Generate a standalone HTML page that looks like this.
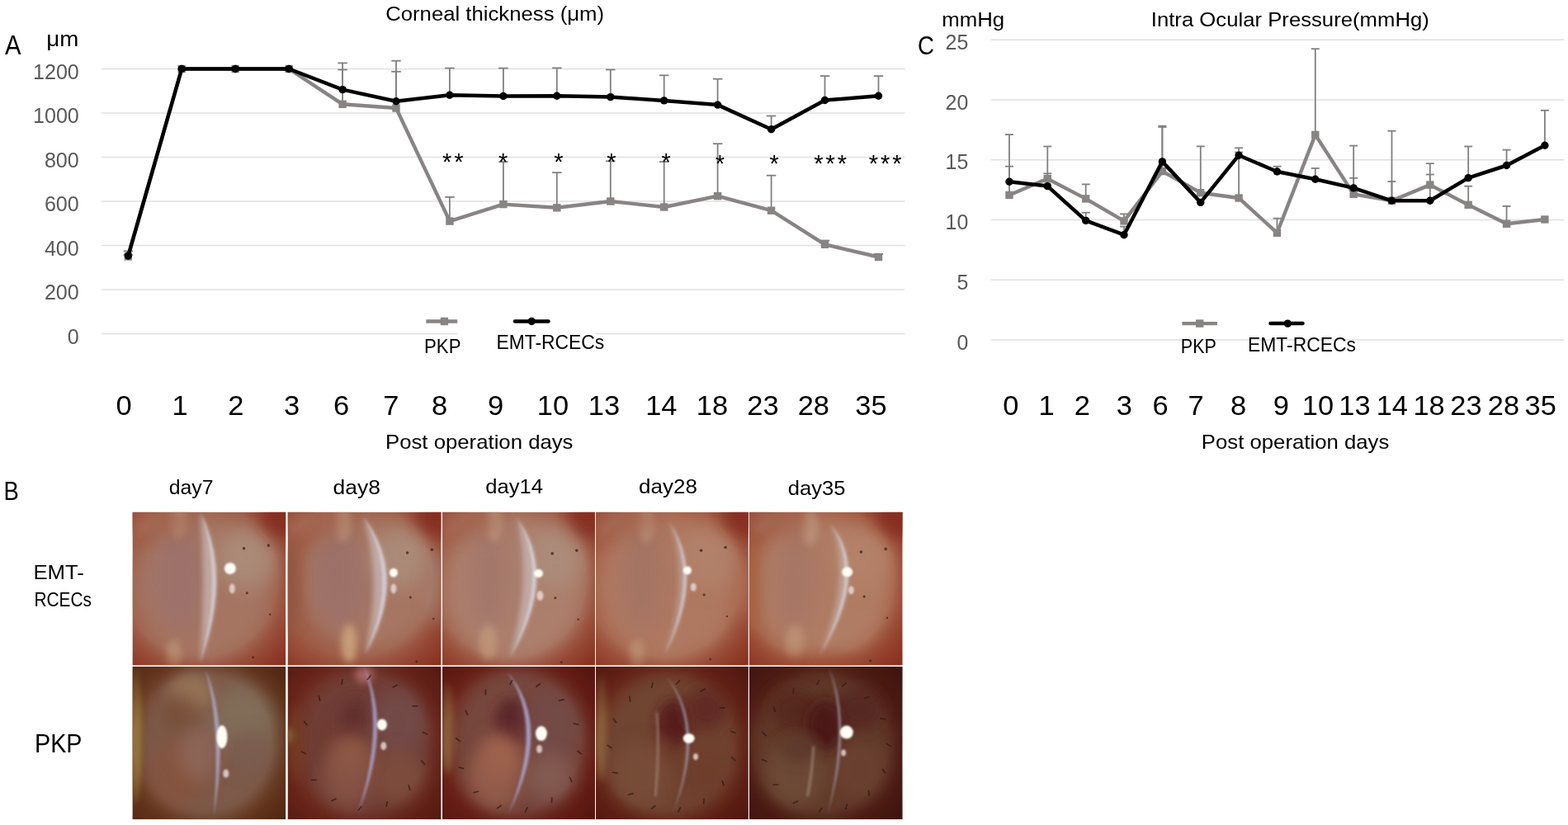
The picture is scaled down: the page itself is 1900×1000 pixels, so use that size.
<!DOCTYPE html>
<html><head><meta charset="utf-8"><title>Figure</title>
<style>
html,body{margin:0;padding:0;background:#fff;}
body{width:1900px;height:1000px;overflow:hidden;}
svg{display:block;}
text{font-family:"Liberation Sans", sans-serif;}
</style></head>
<body>
<svg width="1900" height="1000" viewBox="0 0 1900 1000">
<defs>
<filter id="f1" x="-60%" y="-60%" width="220%" height="220%"><feGaussianBlur stdDeviation="1"/></filter>
<filter id="f2" x="-60%" y="-60%" width="220%" height="220%"><feGaussianBlur stdDeviation="2"/></filter>
<filter id="f3" x="-60%" y="-60%" width="220%" height="220%"><feGaussianBlur stdDeviation="3"/></filter>
<filter id="f4" x="-60%" y="-60%" width="220%" height="220%"><feGaussianBlur stdDeviation="4"/></filter>
<filter id="f5" x="-60%" y="-60%" width="220%" height="220%"><feGaussianBlur stdDeviation="5"/></filter>
<filter id="f6" x="-60%" y="-60%" width="220%" height="220%"><feGaussianBlur stdDeviation="6"/></filter>
<filter id="f7" x="-60%" y="-60%" width="220%" height="220%"><feGaussianBlur stdDeviation="7"/></filter>
<filter id="f8" x="-60%" y="-60%" width="220%" height="220%"><feGaussianBlur stdDeviation="8"/></filter>
<filter id="f10" x="-60%" y="-60%" width="220%" height="220%"><feGaussianBlur stdDeviation="10"/></filter>
<filter id="f12" x="-60%" y="-60%" width="220%" height="220%"><feGaussianBlur stdDeviation="12"/></filter>
<filter id="f15" x="-60%" y="-60%" width="220%" height="220%"><feGaussianBlur stdDeviation="15"/></filter>
<filter id="f18" x="-60%" y="-60%" width="220%" height="220%"><feGaussianBlur stdDeviation="18"/></filter>
<filter id="f1_5" x="-60%" y="-60%" width="220%" height="220%"><feGaussianBlur stdDeviation="1.5"/></filter>
<clipPath id="ph0"><rect x="160.5" y="620.8" width="185.8" height="185.7"/></clipPath>
<radialGradient id="vg0" cx="0.44" cy="0.44" r="0.76"><stop offset="0.66" stop-color="#8a3222" stop-opacity="0"/><stop offset="1" stop-color="#8a3222" stop-opacity="1"/></radialGradient>
<clipPath id="ph1"><rect x="160.5" y="808" width="185.8" height="185.2"/></clipPath>
<radialGradient id="vg1" cx="0.46" cy="0.5" r="0.72"><stop offset="0.62" stop-color="#502814" stop-opacity="0"/><stop offset="1" stop-color="#502814" stop-opacity="1"/></radialGradient>
<clipPath id="ph2"><rect x="348.6" y="620.8" width="185.9" height="185.7"/></clipPath>
<radialGradient id="vg2" cx="0.44" cy="0.44" r="0.76"><stop offset="0.66" stop-color="#8a3222" stop-opacity="0"/><stop offset="1" stop-color="#8a3222" stop-opacity="1"/></radialGradient>
<clipPath id="ph3"><rect x="348.6" y="808" width="185.9" height="185.2"/></clipPath>
<radialGradient id="vg3" cx="0.46" cy="0.5" r="0.72"><stop offset="0.62" stop-color="#551912" stop-opacity="0"/><stop offset="1" stop-color="#551912" stop-opacity="1"/></radialGradient>
<clipPath id="ph4"><rect x="536" y="620.8" width="185.0" height="185.7"/></clipPath>
<radialGradient id="vg4" cx="0.44" cy="0.44" r="0.76"><stop offset="0.66" stop-color="#8a3222" stop-opacity="0"/><stop offset="1" stop-color="#8a3222" stop-opacity="1"/></radialGradient>
<clipPath id="ph5"><rect x="536" y="808" width="185.0" height="185.2"/></clipPath>
<radialGradient id="vg5" cx="0.46" cy="0.5" r="0.72"><stop offset="0.62" stop-color="#55140f" stop-opacity="0"/><stop offset="1" stop-color="#55140f" stop-opacity="1"/></radialGradient>
<clipPath id="ph6"><rect x="722" y="620.8" width="184.8" height="185.7"/></clipPath>
<radialGradient id="vg6" cx="0.44" cy="0.44" r="0.76"><stop offset="0.66" stop-color="#8a3222" stop-opacity="0"/><stop offset="1" stop-color="#8a3222" stop-opacity="1"/></radialGradient>
<clipPath id="ph7"><rect x="722" y="808" width="184.8" height="185.2"/></clipPath>
<radialGradient id="vg7" cx="0.46" cy="0.5" r="0.72"><stop offset="0.62" stop-color="#501610" stop-opacity="0"/><stop offset="1" stop-color="#501610" stop-opacity="1"/></radialGradient>
<clipPath id="ph8"><rect x="907.8" y="620.8" width="185.8" height="185.7"/></clipPath>
<radialGradient id="vg8" cx="0.44" cy="0.44" r="0.76"><stop offset="0.66" stop-color="#8a3222" stop-opacity="0"/><stop offset="1" stop-color="#8a3222" stop-opacity="1"/></radialGradient>
<clipPath id="ph9"><rect x="907.8" y="808" width="185.8" height="185.2"/></clipPath>
<radialGradient id="vg9" cx="0.46" cy="0.5" r="0.72"><stop offset="0.62" stop-color="#3e140e" stop-opacity="0"/><stop offset="1" stop-color="#3e140e" stop-opacity="1"/></radialGradient>
</defs>
<rect width="1900" height="1000" fill="#fff"/>
<g clip-path="url(#ph0)">
<rect x="160.5" y="620.8" width="185.8" height="185.7" fill="#9e5a44"/>
<ellipse cx="246.0" cy="713.6" rx="87.3" ry="92.9" fill="#a57562" opacity="1" filter="url(#f12)"/>
<ellipse cx="216.2" cy="704.4" rx="35.3" ry="55.7" fill="#a0766e" opacity="0.85" filter="url(#f10)"/>
<ellipse cx="298.0" cy="676.5" rx="37.2" ry="37.1" fill="#ac8c7a" opacity="0.9" filter="url(#f12)"/>
<ellipse cx="216.2" cy="695.1" rx="18.6" ry="65.0" fill="#966c68" opacity="0.35" filter="url(#f12)"/>
<ellipse cx="216.2" cy="630.1" rx="9.3" ry="22.3" fill="#bc9680" opacity="0.7" filter="url(#f4)"/>
<ellipse cx="210.7" cy="793.5" rx="9.3" ry="18.6" fill="#be9678" opacity="0.7" filter="url(#f4)"/>
<ellipse cx="197.7" cy="631.9" rx="33.4" ry="18.6" fill="#a56952" opacity="0.7" filter="url(#f10)"/>
<ellipse cx="346.3" cy="620.8" rx="29.7" ry="29.7" fill="#7e281e" opacity="0.9" filter="url(#f10)"/>
<ellipse cx="164.2" cy="624.5" rx="22.3" ry="22.3" fill="#a66c58" opacity="0.8" filter="url(#f8)"/>
<rect x="160.5" y="620.8" width="185.8" height="185.7" fill="url(#vg0)"/>
<path d="M242.3,620.8 Q281.6,696.9 242.3,802.8 Q249.6,696.9 242.3,620.8 Z" fill="#c6b4b0" opacity="0.8" filter="url(#f3)"/>
<path d="M242.3,620.8 Q281.6,696.9 242.3,802.8 Q271.6,696.9 242.3,620.8 Z" fill="#d6ccd4" opacity="0.9" filter="url(#f1_5)"/>
<circle cx="295.6" cy="664.8" r="1.8" fill="#3a2018" opacity="0.75"/>
<circle cx="325.3" cy="661.1" r="1.8" fill="#3a2018" opacity="0.75"/>
<circle cx="299.3" cy="718.7" r="1.5" fill="#3a2018" opacity="0.75"/>
<circle cx="327.2" cy="744.7" r="1.2" fill="#3a2018" opacity="0.75"/>
<circle cx="306.7" cy="796.7" r="1.4" fill="#3a2018" opacity="0.75"/>
<ellipse cx="278.9" cy="689.0" rx="7" ry="7" fill="#fffdf4" filter="url(#f1)"/>
<ellipse cx="281.3" cy="713.6" rx="3.5" ry="6" fill="#e8d8d4" opacity="0.85" filter="url(#f1)"/>
</g>
<g clip-path="url(#ph1)">
<rect x="160.5" y="808" width="185.8" height="185.2" fill="#6e3a20"/>
<ellipse cx="253.4" cy="900.6" rx="87.3" ry="96.3" fill="#7d5a4a" opacity="1" filter="url(#f10)"/>
<ellipse cx="294.3" cy="871.0" rx="40.9" ry="40.7" fill="#82705c" opacity="0.9" filter="url(#f12)"/>
<ellipse cx="301.7" cy="911.7" rx="29.7" ry="25.9" fill="#7a5d50" opacity="0.9" filter="url(#f10)"/>
<ellipse cx="216.2" cy="937.6" rx="33.4" ry="40.7" fill="#87523e" opacity="0.8" filter="url(#f12)"/>
<ellipse cx="164.2" cy="891.3" rx="7.4" ry="83.3" fill="#96783c" opacity="0.9" filter="url(#f3)"/>
<ellipse cx="231.1" cy="839.5" rx="26.0" ry="22.2" fill="#987658" opacity="0.9" filter="url(#f8)"/>
<ellipse cx="240.4" cy="911.7" rx="24.2" ry="33.3" fill="#8e665a" opacity="0.9" filter="url(#f10)"/>
<ellipse cx="216.2" cy="863.6" rx="22.3" ry="22.2" fill="#784e38" opacity="0.8" filter="url(#f10)"/>
<rect x="160.5" y="808" width="185.8" height="185.2" fill="url(#vg1)"/>
<path d="M248.9,811.7 Q278.1,878.4 259.0,989.5 Q268.1,878.4 248.9,811.7 Z" fill="#afa5c3" opacity="0.9" filter="url(#f1_5)"/>
<ellipse cx="269.0" cy="893.2" rx="6.5" ry="14" fill="#fffdf4" filter="url(#f1)"/>
<ellipse cx="273.8" cy="937.6" rx="3.5" ry="5" fill="#e8d8d4" opacity="0.85" filter="url(#f1)"/>
</g>
<g clip-path="url(#ph2)">
<rect x="348.6" y="620.8" width="185.9" height="185.7" fill="#9e5a44"/>
<ellipse cx="447.1" cy="706.2" rx="87.4" ry="83.6" fill="#a67662" opacity="1" filter="url(#f12)"/>
<ellipse cx="415.5" cy="704.4" rx="39.0" ry="55.7" fill="#a0746c" opacity="0.85" filter="url(#f10)"/>
<ellipse cx="486.2" cy="676.5" rx="37.2" ry="37.1" fill="#ac8c7a" opacity="0.9" filter="url(#f12)"/>
<ellipse cx="404.4" cy="695.1" rx="18.6" ry="65.0" fill="#966c68" opacity="0.35" filter="url(#f12)"/>
<ellipse cx="415.5" cy="633.8" rx="9.3" ry="22.3" fill="#be967d" opacity="0.7" filter="url(#f4)"/>
<ellipse cx="423.0" cy="780.5" rx="9.3" ry="24.1" fill="#cda580" opacity="0.85" filter="url(#f4)"/>
<ellipse cx="385.8" cy="631.9" rx="33.5" ry="18.6" fill="#a56952" opacity="0.7" filter="url(#f10)"/>
<ellipse cx="534.5" cy="620.8" rx="29.7" ry="29.7" fill="#7e281e" opacity="0.9" filter="url(#f10)"/>
<ellipse cx="352.3" cy="624.5" rx="22.3" ry="22.3" fill="#a66c58" opacity="0.8" filter="url(#f8)"/>
<ellipse cx="530.8" cy="713.6" rx="18.6" ry="46.4" fill="#a67c6a" opacity="0.9" filter="url(#f8)"/>
<ellipse cx="348.6" cy="713.6" rx="14.9" ry="55.7" fill="#925440" opacity="0.9" filter="url(#f8)"/>
<rect x="348.6" y="620.8" width="185.9" height="185.7" fill="url(#vg2)"/>
<path d="M439.7,626.4 Q496.4,698.8 441.6,793.5 Q464.4,698.8 439.7,626.4 Z" fill="#c6b4b0" opacity="0.8" filter="url(#f3)"/>
<path d="M439.7,626.4 Q496.4,698.8 441.6,793.5 Q485.4,698.8 439.7,626.4 Z" fill="#d6ccd4" opacity="0.9" filter="url(#f1_5)"/>
<circle cx="493.6" cy="670.0" r="1.8" fill="#3a2018" opacity="0.75"/>
<circle cx="523.3" cy="666.3" r="1.8" fill="#3a2018" opacity="0.75"/>
<circle cx="497.3" cy="723.9" r="1.5" fill="#3a2018" opacity="0.75"/>
<circle cx="525.2" cy="749.9" r="1.2" fill="#3a2018" opacity="0.75"/>
<circle cx="504.8" cy="801.9" r="1.4" fill="#3a2018" opacity="0.75"/>
<ellipse cx="476.9" cy="694.2" rx="5" ry="5.5" fill="#fffdf4" filter="url(#f1)"/>
<ellipse cx="476.9" cy="713.6" rx="3.5" ry="6" fill="#e8d8d4" opacity="0.85" filter="url(#f1)"/>
</g>
<g clip-path="url(#ph3)">
<rect x="348.6" y="808" width="185.9" height="185.2" fill="#70281c"/>
<ellipse cx="441.6" cy="900.6" rx="83.7" ry="92.6" fill="#703e34" opacity="1" filter="url(#f10)"/>
<ellipse cx="431.0" cy="876.5" rx="18.6" ry="29.6" fill="#622d2d" opacity="0.9" filter="url(#f8)"/>
<ellipse cx="482.4" cy="878.4" rx="33.5" ry="44.4" fill="#734b48" opacity="0.9" filter="url(#f10)"/>
<ellipse cx="423.0" cy="941.3" rx="33.5" ry="37.0" fill="#875546" opacity="0.9" filter="url(#f10)"/>
<ellipse cx="352.3" cy="891.3" rx="5.6" ry="9.3" fill="#967d50" opacity="0.8" filter="url(#f3)"/>
<ellipse cx="359.8" cy="900.6" rx="9.3" ry="46.3" fill="#733c23" opacity="0.8" filter="url(#f6)"/>
<ellipse cx="482.4" cy="941.3" rx="33.5" ry="33.3" fill="#7e4e3c" opacity="0.9" filter="url(#f10)"/>
<ellipse cx="426.7" cy="913.6" rx="24.2" ry="25.9" fill="#8e5844" opacity="0.9" filter="url(#f10)"/>
<ellipse cx="441.6" cy="817.3" rx="11.2" ry="11.1" fill="#b46e6e" opacity="0.8" filter="url(#f4)"/>
<rect x="348.6" y="808" width="185.9" height="185.2" fill="url(#vg3)"/>
<path d="M441.0,808.0 Q477.0,881.2 433.0,987.6 Q467.0,881.2 441.0,808.0 Z" fill="#aaa5d2" opacity="0.85" filter="url(#f1_5)"/>
<line x1="510.4" y1="921.4" x2="514.8" y2="926.9" stroke="#2e1812" stroke-width="1.6" opacity="0.75"/>
<line x1="495.2" y1="951.4" x2="496.8" y2="958.2" stroke="#2e1812" stroke-width="1.6" opacity="0.75"/>
<line x1="469.4" y1="971.3" x2="467.9" y2="978.2" stroke="#2e1812" stroke-width="1.6" opacity="0.75"/>
<line x1="438.1" y1="977.3" x2="433.7" y2="982.7" stroke="#2e1812" stroke-width="1.6" opacity="0.75"/>
<line x1="407.5" y1="968.0" x2="401.2" y2="971.0" stroke="#2e1812" stroke-width="1.6" opacity="0.75"/>
<line x1="383.6" y1="945.4" x2="376.6" y2="945.4" stroke="#2e1812" stroke-width="1.6" opacity="0.75"/>
<line x1="371.2" y1="913.9" x2="364.9" y2="910.9" stroke="#2e1812" stroke-width="1.6" opacity="0.75"/>
<line x1="372.7" y1="879.8" x2="368.3" y2="874.3" stroke="#2e1812" stroke-width="1.6" opacity="0.75"/>
<line x1="387.9" y1="849.8" x2="386.3" y2="843.0" stroke="#2e1812" stroke-width="1.6" opacity="0.75"/>
<line x1="413.7" y1="829.9" x2="415.2" y2="823.0" stroke="#2e1812" stroke-width="1.6" opacity="0.75"/>
<line x1="445.0" y1="823.9" x2="449.4" y2="818.5" stroke="#2e1812" stroke-width="1.6" opacity="0.75"/>
<line x1="475.6" y1="833.2" x2="481.9" y2="830.2" stroke="#2e1812" stroke-width="1.6" opacity="0.75"/>
<line x1="499.5" y1="855.8" x2="506.5" y2="855.8" stroke="#2e1812" stroke-width="1.6" opacity="0.75"/>
<line x1="511.9" y1="887.3" x2="518.2" y2="890.3" stroke="#2e1812" stroke-width="1.6" opacity="0.75"/>
<ellipse cx="462.9" cy="878.4" rx="6" ry="7" fill="#fffdf4" filter="url(#f1)"/>
<ellipse cx="464.8" cy="904.3" rx="3.5" ry="5" fill="#e8d8d4" opacity="0.85" filter="url(#f1)"/>
</g>
<g clip-path="url(#ph4)">
<rect x="536" y="620.8" width="185.0" height="185.7" fill="#a05c46"/>
<ellipse cx="623.0" cy="713.6" rx="88.8" ry="92.9" fill="#ac7f6c" opacity="1" filter="url(#f12)"/>
<ellipse cx="595.2" cy="704.4" rx="37.0" ry="59.4" fill="#aa7e70" opacity="0.8" filter="url(#f10)"/>
<ellipse cx="672.9" cy="676.5" rx="37.0" ry="37.1" fill="#ac8c7a" opacity="0.9" filter="url(#f12)"/>
<ellipse cx="591.5" cy="695.1" rx="18.5" ry="65.0" fill="#966c68" opacity="0.35" filter="url(#f12)"/>
<ellipse cx="598.9" cy="633.8" rx="9.2" ry="22.3" fill="#c3a087" opacity="0.7" filter="url(#f4)"/>
<ellipse cx="591.5" cy="778.6" rx="11.1" ry="22.3" fill="#c39b7d" opacity="0.7" filter="url(#f4)"/>
<ellipse cx="573.0" cy="631.9" rx="33.3" ry="18.6" fill="#a56952" opacity="0.7" filter="url(#f10)"/>
<ellipse cx="721.0" cy="620.8" rx="29.6" ry="29.7" fill="#7e281e" opacity="0.9" filter="url(#f10)"/>
<ellipse cx="539.7" cy="624.5" rx="22.2" ry="22.3" fill="#a66c58" opacity="0.8" filter="url(#f8)"/>
<rect x="536" y="620.8" width="185.0" height="185.7" fill="url(#vg4)"/>
<path d="M625.7,628.2 Q678.0,696.0 617.4,797.2 Q646.0,696.0 625.7,628.2 Z" fill="#c6b4b0" opacity="0.8" filter="url(#f3)"/>
<path d="M625.7,628.2 Q678.0,696.0 617.4,797.2 Q668.0,696.0 625.7,628.2 Z" fill="#d8ced4" opacity="0.9" filter="url(#f1_5)"/>
<circle cx="669.2" cy="670.9" r="1.8" fill="#3a2018" opacity="0.75"/>
<circle cx="698.8" cy="667.2" r="1.8" fill="#3a2018" opacity="0.75"/>
<circle cx="672.9" cy="724.8" r="1.5" fill="#3a2018" opacity="0.75"/>
<circle cx="700.6" cy="750.8" r="1.2" fill="#3a2018" opacity="0.75"/>
<circle cx="680.3" cy="802.8" r="1.4" fill="#3a2018" opacity="0.75"/>
<ellipse cx="652.5" cy="695.1" rx="5.5" ry="5" fill="#fffdf4" filter="url(#f1)"/>
<ellipse cx="654.4" cy="722.0" rx="4" ry="6" fill="#e8d8d4" opacity="0.85" filter="url(#f1)"/>
</g>
<g clip-path="url(#ph5)">
<rect x="536" y="808" width="185.0" height="185.2" fill="#6e2319"/>
<ellipse cx="628.5" cy="900.6" rx="83.2" ry="92.6" fill="#76463c" opacity="1" filter="url(#f10)"/>
<ellipse cx="619.6" cy="875.8" rx="20.4" ry="29.6" fill="#5c262c" opacity="0.95" filter="url(#f7)"/>
<ellipse cx="669.2" cy="882.1" rx="33.3" ry="44.4" fill="#734b48" opacity="0.8" filter="url(#f10)"/>
<ellipse cx="600.8" cy="941.3" rx="33.3" ry="37.0" fill="#965f4e" opacity="0.9" filter="url(#f10)"/>
<ellipse cx="665.5" cy="941.3" rx="29.6" ry="29.6" fill="#845c52" opacity="0.9" filter="url(#f10)"/>
<ellipse cx="606.3" cy="913.6" rx="24.1" ry="25.9" fill="#a0634e" opacity="0.9" filter="url(#f10)"/>
<ellipse cx="541.5" cy="882.1" rx="7.4" ry="55.6" fill="#967346" opacity="0.7" filter="url(#f4)"/>
<rect x="536" y="808" width="185.0" height="185.2" fill="url(#vg5)"/>
<path d="M613.7,813.6 Q672.0,878.4 615.5,987.6 Q661.0,878.4 613.7,813.6 Z" fill="#afaad7" opacity="0.85" filter="url(#f1_5)"/>
<line x1="699.5" y1="909.8" x2="704.8" y2="914.3" stroke="#2e1812" stroke-width="1.6" opacity="0.75"/>
<line x1="690.2" y1="941.7" x2="693.1" y2="948.1" stroke="#2e1812" stroke-width="1.6" opacity="0.75"/>
<line x1="668.7" y1="966.2" x2="668.5" y2="973.2" stroke="#2e1812" stroke-width="1.6" opacity="0.75"/>
<line x1="639.3" y1="978.4" x2="636.1" y2="984.6" stroke="#2e1812" stroke-width="1.6" opacity="0.75"/>
<line x1="607.7" y1="975.9" x2="602.1" y2="980.1" stroke="#2e1812" stroke-width="1.6" opacity="0.75"/>
<line x1="580.2" y1="959.3" x2="573.4" y2="960.7" stroke="#2e1812" stroke-width="1.6" opacity="0.75"/>
<line x1="562.3" y1="931.8" x2="555.6" y2="930.0" stroke="#2e1812" stroke-width="1.6" opacity="0.75"/>
<line x1="557.5" y1="898.8" x2="552.2" y2="894.3" stroke="#2e1812" stroke-width="1.6" opacity="0.75"/>
<line x1="566.8" y1="866.9" x2="563.9" y2="860.5" stroke="#2e1812" stroke-width="1.6" opacity="0.75"/>
<line x1="588.3" y1="842.5" x2="588.5" y2="835.5" stroke="#2e1812" stroke-width="1.6" opacity="0.75"/>
<line x1="617.7" y1="830.2" x2="620.9" y2="824.0" stroke="#2e1812" stroke-width="1.6" opacity="0.75"/>
<line x1="649.3" y1="832.7" x2="654.9" y2="828.5" stroke="#2e1812" stroke-width="1.6" opacity="0.75"/>
<line x1="676.8" y1="849.3" x2="683.6" y2="847.9" stroke="#2e1812" stroke-width="1.6" opacity="0.75"/>
<line x1="694.7" y1="876.8" x2="701.4" y2="878.6" stroke="#2e1812" stroke-width="1.6" opacity="0.75"/>
<ellipse cx="655.9" cy="889.1" rx="7" ry="9" fill="#fffdf4" filter="url(#f1)"/>
<ellipse cx="653.5" cy="908.0" rx="3.5" ry="5" fill="#e8d8d4" opacity="0.85" filter="url(#f1)"/>
</g>
<g clip-path="url(#ph6)">
<rect x="722" y="620.8" width="184.8" height="185.7" fill="#a25a42"/>
<ellipse cx="808.9" cy="713.6" rx="88.7" ry="92.9" fill="#af7860" opacity="1" filter="url(#f12)"/>
<ellipse cx="777.4" cy="704.4" rx="37.0" ry="59.4" fill="#ac7864" opacity="0.8" filter="url(#f10)"/>
<ellipse cx="858.8" cy="676.5" rx="37.0" ry="37.1" fill="#b2826c" opacity="0.9" filter="url(#f12)"/>
<ellipse cx="777.4" cy="695.1" rx="18.5" ry="65.0" fill="#966c68" opacity="0.35" filter="url(#f12)"/>
<ellipse cx="783.0" cy="635.7" rx="9.2" ry="22.3" fill="#c39b82" opacity="0.6" filter="url(#f4)"/>
<ellipse cx="771.9" cy="793.5" rx="9.2" ry="18.6" fill="#be9678" opacity="0.7" filter="url(#f4)"/>
<ellipse cx="759.0" cy="631.9" rx="33.3" ry="18.6" fill="#a56952" opacity="0.7" filter="url(#f10)"/>
<ellipse cx="906.8" cy="620.8" rx="29.6" ry="29.7" fill="#7e281e" opacity="0.9" filter="url(#f10)"/>
<ellipse cx="725.7" cy="624.5" rx="22.2" ry="22.3" fill="#a66c58" opacity="0.8" filter="url(#f8)"/>
<ellipse cx="905.0" cy="713.6" rx="14.8" ry="40.9" fill="#ae7258" opacity="0.9" filter="url(#f8)"/>
<rect x="722" y="620.8" width="184.8" height="185.7" fill="url(#vg6)"/>
<path d="M809.8,631.9 Q856.4,696.0 805.2,793.5 Q838.4,696.0 809.8,631.9 Z" fill="#bea8a2" opacity="0.7" filter="url(#f3)"/>
<path d="M809.8,631.9 Q856.4,696.0 805.2,793.5 Q848.4,696.0 809.8,631.9 Z" fill="#d4c8cc" opacity="0.85" filter="url(#f1_5)"/>
<circle cx="849.5" cy="667.2" r="1.8" fill="#3a2018" opacity="0.75"/>
<circle cx="879.1" cy="663.5" r="1.8" fill="#3a2018" opacity="0.75"/>
<circle cx="853.2" cy="721.1" r="1.5" fill="#3a2018" opacity="0.75"/>
<circle cx="880.9" cy="747.1" r="1.2" fill="#3a2018" opacity="0.75"/>
<circle cx="860.6" cy="799.1" r="1.4" fill="#3a2018" opacity="0.75"/>
<ellipse cx="832.9" cy="691.4" rx="5" ry="5" fill="#fffdf4" filter="url(#f1)"/>
<ellipse cx="840.3" cy="711.8" rx="3.5" ry="5" fill="#e8d8d4" opacity="0.85" filter="url(#f1)"/>
</g>
<g clip-path="url(#ph7)">
<rect x="722" y="808" width="184.8" height="185.2" fill="#692619"/>
<ellipse cx="810.7" cy="904.3" rx="85.0" ry="88.9" fill="#704430" opacity="1" filter="url(#f10)"/>
<ellipse cx="816.2" cy="877.5" rx="20.3" ry="29.6" fill="#561e1e" opacity="0.95" filter="url(#f7)"/>
<ellipse cx="855.1" cy="859.9" rx="25.9" ry="25.9" fill="#5f2820" opacity="0.9" filter="url(#f10)"/>
<ellipse cx="805.2" cy="911.7" rx="18.5" ry="18.5" fill="#683626" opacity="0.8" filter="url(#f8)"/>
<ellipse cx="777.4" cy="937.6" rx="37.0" ry="40.7" fill="#784e38" opacity="0.9" filter="url(#f10)"/>
<ellipse cx="855.1" cy="937.6" rx="33.3" ry="37.0" fill="#6e3c2a" opacity="0.8" filter="url(#f10)"/>
<ellipse cx="727.5" cy="882.1" rx="7.4" ry="64.8" fill="#967346" opacity="0.7" filter="url(#f4)"/>
<rect x="722" y="808" width="184.8" height="185.2" fill="url(#vg7)"/>
<path d="M806.5,819.1 Q858.1,877.5 816.2,983.9 Q852.1,877.5 806.5,819.1 Z" fill="#aaa0b4" opacity="0.85" filter="url(#f1_5)"/>
<path d="M795.9,863.6 Q799.6,909.9 794.1,965.4" fill="none" stroke="#aa8c82" stroke-width="3" opacity="0.6" filter="url(#f1_5)"/>
<line x1="886.2" y1="917.2" x2="891.1" y2="922.3" stroke="#2e1812" stroke-width="1.6" opacity="0.75"/>
<line x1="874.9" y1="946.1" x2="877.3" y2="952.7" stroke="#2e1812" stroke-width="1.6" opacity="0.75"/>
<line x1="853.1" y1="967.8" x2="852.7" y2="974.8" stroke="#2e1812" stroke-width="1.6" opacity="0.75"/>
<line x1="824.7" y1="978.5" x2="821.4" y2="984.7" stroke="#2e1812" stroke-width="1.6" opacity="0.75"/>
<line x1="794.4" y1="976.3" x2="788.9" y2="980.7" stroke="#2e1812" stroke-width="1.6" opacity="0.75"/>
<line x1="767.6" y1="961.7" x2="760.8" y2="963.5" stroke="#2e1812" stroke-width="1.6" opacity="0.75"/>
<line x1="748.9" y1="937.2" x2="742.0" y2="936.0" stroke="#2e1812" stroke-width="1.6" opacity="0.75"/>
<line x1="741.5" y1="907.0" x2="735.7" y2="903.1" stroke="#2e1812" stroke-width="1.6" opacity="0.75"/>
<line x1="746.8" y1="876.3" x2="743.0" y2="870.4" stroke="#2e1812" stroke-width="1.6" opacity="0.75"/>
<line x1="763.7" y1="850.5" x2="762.7" y2="843.5" stroke="#2e1812" stroke-width="1.6" opacity="0.75"/>
<line x1="789.4" y1="833.9" x2="791.3" y2="827.2" stroke="#2e1812" stroke-width="1.6" opacity="0.75"/>
<line x1="819.4" y1="829.6" x2="823.9" y2="824.2" stroke="#2e1812" stroke-width="1.6" opacity="0.75"/>
<line x1="848.5" y1="838.1" x2="854.8" y2="835.0" stroke="#2e1812" stroke-width="1.6" opacity="0.75"/>
<line x1="871.8" y1="858.1" x2="878.8" y2="857.9" stroke="#2e1812" stroke-width="1.6" opacity="0.75"/>
<line x1="885.1" y1="886.1" x2="891.6" y2="888.7" stroke="#2e1812" stroke-width="1.6" opacity="0.75"/>
<ellipse cx="834.7" cy="895.0" rx="7" ry="6" fill="#fffdf4" filter="url(#f1)"/>
<ellipse cx="843.0" cy="917.3" rx="3" ry="4" fill="#e8d8d4" opacity="0.85" filter="url(#f1)"/>
</g>
<g clip-path="url(#ph8)">
<rect x="907.8" y="620.8" width="185.8" height="185.7" fill="#a0523a"/>
<ellipse cx="995.1" cy="713.6" rx="89.2" ry="92.9" fill="#b07c64" opacity="1" filter="url(#f12)"/>
<ellipse cx="967.3" cy="704.4" rx="37.2" ry="59.4" fill="#af7c66" opacity="0.8" filter="url(#f10)"/>
<ellipse cx="1045.3" cy="676.5" rx="37.2" ry="37.1" fill="#b48269" opacity="0.9" filter="url(#f12)"/>
<ellipse cx="963.5" cy="695.1" rx="18.6" ry="65.0" fill="#966c68" opacity="0.35" filter="url(#f12)"/>
<ellipse cx="982.1" cy="639.4" rx="9.3" ry="22.3" fill="#c3a087" opacity="0.6" filter="url(#f4)"/>
<ellipse cx="963.5" cy="778.6" rx="11.1" ry="22.3" fill="#c39b7d" opacity="0.6" filter="url(#f4)"/>
<ellipse cx="945.0" cy="631.9" rx="33.4" ry="18.6" fill="#a56952" opacity="0.7" filter="url(#f10)"/>
<ellipse cx="1093.6" cy="620.8" rx="29.7" ry="29.7" fill="#7e281e" opacity="0.9" filter="url(#f10)"/>
<ellipse cx="911.5" cy="624.5" rx="22.3" ry="22.3" fill="#a66c58" opacity="0.8" filter="url(#f8)"/>
<ellipse cx="907.8" cy="713.6" rx="13.0" ry="55.7" fill="#a66242" opacity="0.9" filter="url(#f8)"/>
<ellipse cx="1000.7" cy="806.5" rx="55.7" ry="14.9" fill="#a0563c" opacity="0.9" filter="url(#f8)"/>
<rect x="907.8" y="620.8" width="185.8" height="185.7" fill="url(#vg8)"/>
<path d="M1006.3,635.7 Q1055.5,694.2 993.3,793.5 Q1033.5,694.2 1006.3,635.7 Z" fill="#c2aca6" opacity="0.75" filter="url(#f3)"/>
<path d="M1006.3,635.7 Q1055.5,694.2 993.3,793.5 Q1046.5,694.2 1006.3,635.7 Z" fill="#d6cace" opacity="0.85" filter="url(#f1_5)"/>
<circle cx="1043.4" cy="669.1" r="1.8" fill="#3a2018" opacity="0.75"/>
<circle cx="1073.2" cy="665.4" r="1.8" fill="#3a2018" opacity="0.75"/>
<circle cx="1047.1" cy="722.9" r="1.5" fill="#3a2018" opacity="0.75"/>
<circle cx="1075.0" cy="748.9" r="1.2" fill="#3a2018" opacity="0.75"/>
<circle cx="1054.6" cy="800.9" r="1.4" fill="#3a2018" opacity="0.75"/>
<ellipse cx="1026.7" cy="693.2" rx="6.5" ry="6" fill="#fffdf4" filter="url(#f1)"/>
<ellipse cx="1031.4" cy="715.5" rx="3.5" ry="5" fill="#e8d8d4" opacity="0.85" filter="url(#f1)"/>
</g>
<g clip-path="url(#ph9)">
<rect x="907.8" y="808" width="185.8" height="185.2" fill="#521e16"/>
<ellipse cx="997.0" cy="904.3" rx="85.5" ry="88.9" fill="#623a2a" opacity="1" filter="url(#f10)"/>
<ellipse cx="963.5" cy="859.9" rx="29.7" ry="25.9" fill="#55281c" opacity="0.9" filter="url(#f10)"/>
<ellipse cx="1041.6" cy="859.9" rx="29.7" ry="25.9" fill="#552820" opacity="0.9" filter="url(#f10)"/>
<ellipse cx="999.8" cy="880.2" rx="22.3" ry="31.5" fill="#481816" opacity="0.95" filter="url(#f8)"/>
<ellipse cx="963.5" cy="937.6" rx="37.2" ry="40.7" fill="#6e4b38" opacity="0.9" filter="url(#f10)"/>
<ellipse cx="1041.6" cy="933.9" rx="33.4" ry="37.0" fill="#6c4230" opacity="0.8" filter="url(#f10)"/>
<ellipse cx="967.3" cy="908.0" rx="22.3" ry="16.7" fill="#5a382a" opacity="0.85" filter="url(#f8)"/>
<rect x="907.8" y="808" width="185.8" height="185.2" fill="url(#vg9)"/>
<path d="M1003.9,808.0 Q1035.6,880.2 1002.0,989.5 Q1029.6,880.2 1003.9,808.0 Z" fill="#a59baa" opacity="0.85" filter="url(#f1_5)"/>
<path d="M985.8,904.3 Q984.0,937.6 978.4,965.4" fill="none" stroke="#aa9687" stroke-width="3" opacity="0.6" filter="url(#f1_5)"/>
<line x1="1069.0" y1="931.6" x2="1072.8" y2="937.5" stroke="#2e1812" stroke-width="1.6" opacity="0.75"/>
<line x1="1052.2" y1="957.7" x2="1053.3" y2="964.6" stroke="#2e1812" stroke-width="1.6" opacity="0.75"/>
<line x1="1026.5" y1="974.4" x2="1024.7" y2="981.2" stroke="#2e1812" stroke-width="1.6" opacity="0.75"/>
<line x1="996.4" y1="979.1" x2="992.0" y2="984.5" stroke="#2e1812" stroke-width="1.6" opacity="0.75"/>
<line x1="967.0" y1="970.8" x2="960.7" y2="974.0" stroke="#2e1812" stroke-width="1.6" opacity="0.75"/>
<line x1="943.4" y1="951.0" x2="936.4" y2="951.4" stroke="#2e1812" stroke-width="1.6" opacity="0.75"/>
<line x1="929.8" y1="923.2" x2="923.2" y2="920.6" stroke="#2e1812" stroke-width="1.6" opacity="0.75"/>
<line x1="928.4" y1="892.1" x2="923.4" y2="887.1" stroke="#2e1812" stroke-width="1.6" opacity="0.75"/>
<line x1="939.5" y1="863.1" x2="937.0" y2="856.5" stroke="#2e1812" stroke-width="1.6" opacity="0.75"/>
<line x1="961.2" y1="841.2" x2="961.6" y2="834.2" stroke="#2e1812" stroke-width="1.6" opacity="0.75"/>
<line x1="989.7" y1="830.2" x2="992.9" y2="824.0" stroke="#2e1812" stroke-width="1.6" opacity="0.75"/>
<line x1="1020.1" y1="832.1" x2="1025.6" y2="827.7" stroke="#2e1812" stroke-width="1.6" opacity="0.75"/>
<line x1="1047.2" y1="846.4" x2="1054.0" y2="844.6" stroke="#2e1812" stroke-width="1.6" opacity="0.75"/>
<line x1="1066.2" y1="870.8" x2="1073.1" y2="871.9" stroke="#2e1812" stroke-width="1.6" opacity="0.75"/>
<line x1="1073.9" y1="900.9" x2="1079.8" y2="904.8" stroke="#2e1812" stroke-width="1.6" opacity="0.75"/>
<ellipse cx="1025.8" cy="887.6" rx="8" ry="8" fill="#fffdf4" filter="url(#f1)"/>
<ellipse cx="1022.1" cy="912.6" rx="3" ry="4" fill="#e8d8d4" opacity="0.85" filter="url(#f1)"/>
</g>
<g id="chartA">
<line x1="123" y1="83.5" x2="1096.5" y2="83.5" stroke="#e0e0e0" stroke-width="1.5"/>
<line x1="123" y1="137.0" x2="1096.5" y2="137.0" stroke="#e0e0e0" stroke-width="1.5"/>
<line x1="123" y1="190.5" x2="1096.5" y2="190.5" stroke="#e0e0e0" stroke-width="1.5"/>
<line x1="123" y1="244.0" x2="1096.5" y2="244.0" stroke="#e0e0e0" stroke-width="1.5"/>
<line x1="123" y1="297.5" x2="1096.5" y2="297.5" stroke="#e0e0e0" stroke-width="1.5"/>
<line x1="123" y1="351.0" x2="1096.5" y2="351.0" stroke="#e0e0e0" stroke-width="1.5"/>
<line x1="123" y1="404.5" x2="1096.5" y2="404.5" stroke="#e0e0e0" stroke-width="1.5"/>
<rect x="554.5" y="402" width="167" height="5" fill="#fff"/>
<text x="95.8" y="95.8" font-size="26" fill="#595959" text-anchor="end" textLength="55.8" lengthAdjust="spacingAndGlyphs">1200</text>
<text x="95.8" y="149.3" font-size="26" fill="#595959" text-anchor="end" textLength="55.8" lengthAdjust="spacingAndGlyphs">1000</text>
<text x="95.8" y="202.8" font-size="26" fill="#595959" text-anchor="end" textLength="41.9" lengthAdjust="spacingAndGlyphs">800</text>
<text x="95.8" y="256.3" font-size="26" fill="#595959" text-anchor="end" textLength="41.9" lengthAdjust="spacingAndGlyphs">600</text>
<text x="95.8" y="309.8" font-size="26" fill="#595959" text-anchor="end" textLength="41.9" lengthAdjust="spacingAndGlyphs">400</text>
<text x="95.8" y="363.3" font-size="26" fill="#595959" text-anchor="end" textLength="41.9" lengthAdjust="spacingAndGlyphs">200</text>
<text x="95.8" y="416.8" font-size="26" fill="#595959" text-anchor="end" textLength="14.0" lengthAdjust="spacingAndGlyphs">0</text>
<line x1="155.3" y1="311" x2="155.3" y2="309" stroke="#808080" stroke-width="1.8"/>
<line x1="149.6" y1="309" x2="161.1" y2="309" stroke="#808080" stroke-width="1.8"/>
<line x1="415.1" y1="126.3" x2="415.1" y2="84.5" stroke="#808080" stroke-width="1.8"/>
<line x1="409.3" y1="84.5" x2="420.8" y2="84.5" stroke="#808080" stroke-width="1.8"/>
<line x1="480.0" y1="131" x2="480.0" y2="86.8" stroke="#808080" stroke-width="1.8"/>
<line x1="474.2" y1="86.8" x2="485.8" y2="86.8" stroke="#808080" stroke-width="1.8"/>
<line x1="544.9" y1="268.1" x2="544.9" y2="238.9" stroke="#808080" stroke-width="1.8"/>
<line x1="539.2" y1="238.9" x2="550.7" y2="238.9" stroke="#808080" stroke-width="1.8"/>
<line x1="609.9" y1="247.6" x2="609.9" y2="196.1" stroke="#808080" stroke-width="1.8"/>
<line x1="604.1" y1="196.1" x2="615.6" y2="196.1" stroke="#808080" stroke-width="1.8"/>
<line x1="674.8" y1="251.8" x2="674.8" y2="209.2" stroke="#808080" stroke-width="1.8"/>
<line x1="669.1" y1="209.2" x2="680.6" y2="209.2" stroke="#808080" stroke-width="1.8"/>
<line x1="739.8" y1="244" x2="739.8" y2="195.3" stroke="#808080" stroke-width="1.8"/>
<line x1="734.0" y1="195.3" x2="745.5" y2="195.3" stroke="#808080" stroke-width="1.8"/>
<line x1="804.7" y1="251" x2="804.7" y2="196.1" stroke="#808080" stroke-width="1.8"/>
<line x1="799.0" y1="196.1" x2="810.5" y2="196.1" stroke="#808080" stroke-width="1.8"/>
<line x1="869.6" y1="237.6" x2="869.6" y2="174.2" stroke="#808080" stroke-width="1.8"/>
<line x1="863.9" y1="174.2" x2="875.4" y2="174.2" stroke="#808080" stroke-width="1.8"/>
<line x1="934.6" y1="255.2" x2="934.6" y2="212.7" stroke="#808080" stroke-width="1.8"/>
<line x1="928.8" y1="212.7" x2="940.3" y2="212.7" stroke="#808080" stroke-width="1.8"/>
<line x1="999.5" y1="296.3" x2="999.5" y2="291.5" stroke="#808080" stroke-width="1.8"/>
<line x1="993.8" y1="291.5" x2="1005.3" y2="291.5" stroke="#808080" stroke-width="1.8"/>
<line x1="1064.5" y1="311.5" x2="1064.5" y2="308" stroke="#808080" stroke-width="1.8"/>
<line x1="1058.7" y1="308" x2="1070.2" y2="308" stroke="#808080" stroke-width="1.8"/>
<line x1="155.3" y1="310" x2="155.3" y2="304.4" stroke="#808080" stroke-width="1.8"/>
<line x1="149.6" y1="304.4" x2="161.1" y2="304.4" stroke="#808080" stroke-width="1.8"/>
<line x1="415.1" y1="108.6" x2="415.1" y2="76.4" stroke="#808080" stroke-width="1.8"/>
<line x1="409.3" y1="76.4" x2="420.8" y2="76.4" stroke="#808080" stroke-width="1.8"/>
<line x1="480.0" y1="122.8" x2="480.0" y2="73.7" stroke="#808080" stroke-width="1.8"/>
<line x1="474.2" y1="73.7" x2="485.8" y2="73.7" stroke="#808080" stroke-width="1.8"/>
<line x1="544.9" y1="115.3" x2="544.9" y2="82.6" stroke="#808080" stroke-width="1.8"/>
<line x1="539.2" y1="82.6" x2="550.7" y2="82.6" stroke="#808080" stroke-width="1.8"/>
<line x1="609.9" y1="116.5" x2="609.9" y2="82.6" stroke="#808080" stroke-width="1.8"/>
<line x1="604.1" y1="82.6" x2="615.6" y2="82.6" stroke="#808080" stroke-width="1.8"/>
<line x1="674.8" y1="116.2" x2="674.8" y2="82.4" stroke="#808080" stroke-width="1.8"/>
<line x1="669.1" y1="82.4" x2="680.6" y2="82.4" stroke="#808080" stroke-width="1.8"/>
<line x1="739.8" y1="117.6" x2="739.8" y2="84.5" stroke="#808080" stroke-width="1.8"/>
<line x1="734.0" y1="84.5" x2="745.5" y2="84.5" stroke="#808080" stroke-width="1.8"/>
<line x1="804.7" y1="121.9" x2="804.7" y2="91.3" stroke="#808080" stroke-width="1.8"/>
<line x1="799.0" y1="91.3" x2="810.5" y2="91.3" stroke="#808080" stroke-width="1.8"/>
<line x1="869.6" y1="127.1" x2="869.6" y2="95.7" stroke="#808080" stroke-width="1.8"/>
<line x1="863.9" y1="95.7" x2="875.4" y2="95.7" stroke="#808080" stroke-width="1.8"/>
<line x1="934.6" y1="156.7" x2="934.6" y2="140.5" stroke="#808080" stroke-width="1.8"/>
<line x1="928.8" y1="140.5" x2="940.3" y2="140.5" stroke="#808080" stroke-width="1.8"/>
<line x1="999.5" y1="121.5" x2="999.5" y2="92.1" stroke="#808080" stroke-width="1.8"/>
<line x1="993.8" y1="92.1" x2="1005.3" y2="92.1" stroke="#808080" stroke-width="1.8"/>
<line x1="1064.5" y1="116.2" x2="1064.5" y2="92.1" stroke="#808080" stroke-width="1.8"/>
<line x1="1058.7" y1="92.1" x2="1070.2" y2="92.1" stroke="#808080" stroke-width="1.8"/>
<polyline points="155.3,311 220.2,83.5 285.2,83.5 350.1,83.5 415.1,126.3 480.0,131 544.9,268.1 609.9,247.6 674.8,251.8 739.8,244 804.7,251 869.6,237.6 934.6,255.2 999.5,296.3 1064.5,311.5" fill="none" stroke="#898484" stroke-width="4.4" stroke-linejoin="round"/>
<rect x="150.6" y="306.3" width="9.4" height="9.4" fill="#898484"/>
<rect x="215.5" y="78.8" width="9.4" height="9.4" fill="#898484"/>
<rect x="280.5" y="78.8" width="9.4" height="9.4" fill="#898484"/>
<rect x="345.4" y="78.8" width="9.4" height="9.4" fill="#898484"/>
<rect x="410.4" y="121.6" width="9.4" height="9.4" fill="#898484"/>
<rect x="475.3" y="126.3" width="9.4" height="9.4" fill="#898484"/>
<rect x="540.2" y="263.4" width="9.4" height="9.4" fill="#898484"/>
<rect x="605.2" y="242.9" width="9.4" height="9.4" fill="#898484"/>
<rect x="670.1" y="247.1" width="9.4" height="9.4" fill="#898484"/>
<rect x="735.1" y="239.3" width="9.4" height="9.4" fill="#898484"/>
<rect x="800.0" y="246.3" width="9.4" height="9.4" fill="#898484"/>
<rect x="864.9" y="232.9" width="9.4" height="9.4" fill="#898484"/>
<rect x="929.9" y="250.5" width="9.4" height="9.4" fill="#898484"/>
<rect x="994.8" y="291.6" width="9.4" height="9.4" fill="#898484"/>
<rect x="1059.8" y="306.8" width="9.4" height="9.4" fill="#898484"/>
<polyline points="155.3,310 220.2,83.5 285.2,83.5 350.1,83.5 415.1,108.6 480.0,122.8 544.9,115.3 609.9,116.5 674.8,116.2 739.8,117.6 804.7,121.9 869.6,127.1 934.6,156.7 999.5,121.5 1064.5,116.2" fill="none" stroke="#000" stroke-width="4.5" stroke-linejoin="round"/>
<circle cx="155.3" cy="310" r="4.7" fill="#000"/>
<circle cx="220.2" cy="83.5" r="4.7" fill="#000"/>
<circle cx="285.2" cy="83.5" r="4.7" fill="#000"/>
<circle cx="350.1" cy="83.5" r="4.7" fill="#000"/>
<circle cx="415.1" cy="108.6" r="4.7" fill="#000"/>
<circle cx="480.0" cy="122.8" r="4.7" fill="#000"/>
<circle cx="544.9" cy="115.3" r="4.7" fill="#000"/>
<circle cx="609.9" cy="116.5" r="4.7" fill="#000"/>
<circle cx="674.8" cy="116.2" r="4.7" fill="#000"/>
<circle cx="739.8" cy="117.6" r="4.7" fill="#000"/>
<circle cx="804.7" cy="121.9" r="4.7" fill="#000"/>
<circle cx="869.6" cy="127.1" r="4.7" fill="#000"/>
<circle cx="934.6" cy="156.7" r="4.7" fill="#000"/>
<circle cx="999.5" cy="121.5" r="4.7" fill="#000"/>
<circle cx="1064.5" cy="116.2" r="4.7" fill="#000"/>
<text x="550.25" y="205.9" font-size="29" text-anchor="middle" letter-spacing="2.9">**</text>
<text x="611.05" y="205.9" font-size="29" text-anchor="middle" letter-spacing="2.9">*</text>
<text x="678.35" y="205.9" font-size="29" text-anchor="middle" letter-spacing="2.9">*</text>
<text x="742.35" y="205.9" font-size="29" text-anchor="middle" letter-spacing="2.9">*</text>
<text x="808.65" y="205.9" font-size="29" text-anchor="middle" letter-spacing="2.9">*</text>
<text x="873.85" y="207.9" font-size="29" text-anchor="middle" letter-spacing="2.9">*</text>
<text x="939.55" y="207.9" font-size="29" text-anchor="middle" letter-spacing="2.9">*</text>
<text x="1007.65" y="207.9" font-size="29" text-anchor="middle" letter-spacing="2.9">***</text>
<text x="1074.15" y="207.9" font-size="29" text-anchor="middle" letter-spacing="2.9">***</text>
<line x1="516.3" y1="389.5" x2="554.2" y2="389.5" stroke="#898484" stroke-width="4.4"/>
<rect x="533.7" y="384.8" width="9.4" height="9.4" fill="#898484"/>
<line x1="624" y1="389.5" x2="664.5" y2="389.5" stroke="#000" stroke-width="4.5" stroke-linecap="round"/>
<circle cx="644.2" cy="389.5" r="4.7" fill="#000"/>
<text x="514" y="428.2" font-size="24.3" fill="#000" textLength="44.5" lengthAdjust="spacingAndGlyphs">PKP</text>
<text x="601.5" y="423.2" font-size="24.3" fill="#000" textLength="130.8" lengthAdjust="spacingAndGlyphs">EMT-RCECs</text>
<text x="150.1" y="502.8" font-size="32.5" fill="#000" text-anchor="middle" textLength="19.2" lengthAdjust="spacingAndGlyphs">0</text>
<text x="218.2" y="502.8" font-size="32.5" fill="#000" text-anchor="middle" textLength="19.2" lengthAdjust="spacingAndGlyphs">1</text>
<text x="285.8" y="502.8" font-size="32.5" fill="#000" text-anchor="middle" textLength="19.2" lengthAdjust="spacingAndGlyphs">2</text>
<text x="353.7" y="502.8" font-size="32.5" fill="#000" text-anchor="middle" textLength="19.2" lengthAdjust="spacingAndGlyphs">3</text>
<text x="413.7" y="502.8" font-size="32.5" fill="#000" text-anchor="middle" textLength="19.2" lengthAdjust="spacingAndGlyphs">6</text>
<text x="473.8" y="502.8" font-size="32.5" fill="#000" text-anchor="middle" textLength="19.2" lengthAdjust="spacingAndGlyphs">7</text>
<text x="532.6" y="502.8" font-size="32.5" fill="#000" text-anchor="middle" textLength="19.2" lengthAdjust="spacingAndGlyphs">8</text>
<text x="600.5" y="502.8" font-size="32.5" fill="#000" text-anchor="middle" textLength="19.2" lengthAdjust="spacingAndGlyphs">9</text>
<text x="670" y="502.8" font-size="32.5" fill="#000" text-anchor="middle" textLength="38.3" lengthAdjust="spacingAndGlyphs">10</text>
<text x="732" y="502.8" font-size="32.5" fill="#000" text-anchor="middle" textLength="38.3" lengthAdjust="spacingAndGlyphs">13</text>
<text x="801.3" y="502.8" font-size="32.5" fill="#000" text-anchor="middle" textLength="38.3" lengthAdjust="spacingAndGlyphs">14</text>
<text x="863" y="502.8" font-size="32.5" fill="#000" text-anchor="middle" textLength="38.3" lengthAdjust="spacingAndGlyphs">18</text>
<text x="924.5" y="502.8" font-size="32.5" fill="#000" text-anchor="middle" textLength="38.3" lengthAdjust="spacingAndGlyphs">23</text>
<text x="985.8" y="502.8" font-size="32.5" fill="#000" text-anchor="middle" textLength="38.3" lengthAdjust="spacingAndGlyphs">28</text>
<text x="1055.5" y="502.8" font-size="32.5" fill="#000" text-anchor="middle" textLength="38.3" lengthAdjust="spacingAndGlyphs">35</text>
<text x="467" y="544.2" font-size="24" fill="#000" textLength="227.5" lengthAdjust="spacingAndGlyphs">Post operation days</text>
<text x="467.2" y="24.8" font-size="24.7" fill="#000" textLength="264.8" lengthAdjust="spacingAndGlyphs">Corneal thickness (μm)</text>
<text x="5.9" y="66.4" font-size="33" fill="#000" textLength="19.5" lengthAdjust="spacingAndGlyphs">A</text>
<text x="56.2" y="55.9" font-size="26.6" fill="#000" textLength="39" lengthAdjust="spacingAndGlyphs">μm</text>
</g>
<g id="chartC">
<line x1="1200.3" y1="48.2" x2="1895.4" y2="48.2" stroke="#e0e0e0" stroke-width="1.5"/>
<line x1="1200.3" y1="121.0" x2="1895.4" y2="121.0" stroke="#e0e0e0" stroke-width="1.5"/>
<line x1="1200.3" y1="193.7" x2="1895.4" y2="193.7" stroke="#e0e0e0" stroke-width="1.5"/>
<line x1="1200.3" y1="266.5" x2="1895.4" y2="266.5" stroke="#e0e0e0" stroke-width="1.5"/>
<line x1="1200.3" y1="339.2" x2="1895.4" y2="339.2" stroke="#e0e0e0" stroke-width="1.5"/>
<line x1="1200.3" y1="412.0" x2="1895.4" y2="412.0" stroke="#e0e0e0" stroke-width="1.5"/>
<text x="1173.4" y="59.8" font-size="25.5" fill="#595959" text-anchor="end" textLength="27.8" lengthAdjust="spacingAndGlyphs">25</text>
<text x="1173.4" y="132.6" font-size="25.5" fill="#595959" text-anchor="end" textLength="27.8" lengthAdjust="spacingAndGlyphs">20</text>
<text x="1173.4" y="205.3" font-size="25.5" fill="#595959" text-anchor="end" textLength="27.8" lengthAdjust="spacingAndGlyphs">15</text>
<text x="1173.4" y="278.1" font-size="25.5" fill="#595959" text-anchor="end" textLength="27.8" lengthAdjust="spacingAndGlyphs">10</text>
<text x="1173.4" y="350.8" font-size="25.5" fill="#595959" text-anchor="end" textLength="13.9" lengthAdjust="spacingAndGlyphs">5</text>
<text x="1173.4" y="423.6" font-size="25.5" fill="#595959" text-anchor="end" textLength="13.9" lengthAdjust="spacingAndGlyphs">0</text>
<line x1="1223.0" y1="236.4" x2="1223.0" y2="201.7" stroke="#808080" stroke-width="1.8"/>
<line x1="1218.0" y1="201.7" x2="1228.0" y2="201.7" stroke="#808080" stroke-width="1.8"/>
<line x1="1269.3" y1="216.6" x2="1269.3" y2="210.3" stroke="#808080" stroke-width="1.8"/>
<line x1="1264.3" y1="210.3" x2="1274.3" y2="210.3" stroke="#808080" stroke-width="1.8"/>
<line x1="1315.7" y1="240.9" x2="1315.7" y2="223.4" stroke="#808080" stroke-width="1.8"/>
<line x1="1310.7" y1="223.4" x2="1320.7" y2="223.4" stroke="#808080" stroke-width="1.8"/>
<line x1="1362.0" y1="267.9" x2="1362.0" y2="259.4" stroke="#808080" stroke-width="1.8"/>
<line x1="1357.0" y1="259.4" x2="1367.0" y2="259.4" stroke="#808080" stroke-width="1.8"/>
<line x1="1408.4" y1="207.6" x2="1408.4" y2="154" stroke="#808080" stroke-width="1.8"/>
<line x1="1403.4" y1="154" x2="1413.4" y2="154" stroke="#808080" stroke-width="1.8"/>
<line x1="1454.8" y1="233.7" x2="1454.8" y2="177.4" stroke="#808080" stroke-width="1.8"/>
<line x1="1449.8" y1="177.4" x2="1459.8" y2="177.4" stroke="#808080" stroke-width="1.8"/>
<line x1="1501.1" y1="240" x2="1501.1" y2="184.6" stroke="#808080" stroke-width="1.8"/>
<line x1="1496.1" y1="184.6" x2="1506.1" y2="184.6" stroke="#808080" stroke-width="1.8"/>
<line x1="1547.5" y1="282.3" x2="1547.5" y2="264.7" stroke="#808080" stroke-width="1.8"/>
<line x1="1542.5" y1="264.7" x2="1552.5" y2="264.7" stroke="#808080" stroke-width="1.8"/>
<line x1="1593.8" y1="163.4" x2="1593.8" y2="59.2" stroke="#808080" stroke-width="1.8"/>
<line x1="1588.8" y1="59.2" x2="1598.8" y2="59.2" stroke="#808080" stroke-width="1.8"/>
<line x1="1640.2" y1="235.4" x2="1640.2" y2="215.8" stroke="#808080" stroke-width="1.8"/>
<line x1="1635.2" y1="215.8" x2="1645.2" y2="215.8" stroke="#808080" stroke-width="1.8"/>
<line x1="1686.5" y1="243.3" x2="1686.5" y2="220" stroke="#808080" stroke-width="1.8"/>
<line x1="1681.5" y1="220" x2="1691.5" y2="220" stroke="#808080" stroke-width="1.8"/>
<line x1="1732.8" y1="224.1" x2="1732.8" y2="211.5" stroke="#808080" stroke-width="1.8"/>
<line x1="1727.8" y1="211.5" x2="1737.8" y2="211.5" stroke="#808080" stroke-width="1.8"/>
<line x1="1779.2" y1="248.3" x2="1779.2" y2="225.7" stroke="#808080" stroke-width="1.8"/>
<line x1="1774.2" y1="225.7" x2="1784.2" y2="225.7" stroke="#808080" stroke-width="1.8"/>
<line x1="1825.6" y1="271.3" x2="1825.6" y2="249.9" stroke="#808080" stroke-width="1.8"/>
<line x1="1820.6" y1="249.9" x2="1830.6" y2="249.9" stroke="#808080" stroke-width="1.8"/>
<line x1="1223.0" y1="220.2" x2="1223.0" y2="163.1" stroke="#808080" stroke-width="1.8"/>
<line x1="1218.0" y1="163.1" x2="1228.0" y2="163.1" stroke="#808080" stroke-width="1.8"/>
<line x1="1269.3" y1="225.6" x2="1269.3" y2="177.5" stroke="#808080" stroke-width="1.8"/>
<line x1="1264.3" y1="177.5" x2="1274.3" y2="177.5" stroke="#808080" stroke-width="1.8"/>
<line x1="1315.7" y1="267.4" x2="1315.7" y2="257.7" stroke="#808080" stroke-width="1.8"/>
<line x1="1310.7" y1="257.7" x2="1320.7" y2="257.7" stroke="#808080" stroke-width="1.8"/>
<line x1="1362.0" y1="284.7" x2="1362.0" y2="274.6" stroke="#808080" stroke-width="1.8"/>
<line x1="1357.0" y1="274.6" x2="1367.0" y2="274.6" stroke="#808080" stroke-width="1.8"/>
<line x1="1408.4" y1="195.9" x2="1408.4" y2="152.7" stroke="#808080" stroke-width="1.8"/>
<line x1="1403.4" y1="152.7" x2="1413.4" y2="152.7" stroke="#808080" stroke-width="1.8"/>
<line x1="1501.1" y1="188.2" x2="1501.1" y2="179.3" stroke="#808080" stroke-width="1.8"/>
<line x1="1496.1" y1="179.3" x2="1506.1" y2="179.3" stroke="#808080" stroke-width="1.8"/>
<line x1="1547.5" y1="208" x2="1547.5" y2="201.7" stroke="#808080" stroke-width="1.8"/>
<line x1="1542.5" y1="201.7" x2="1552.5" y2="201.7" stroke="#808080" stroke-width="1.8"/>
<line x1="1593.8" y1="217.2" x2="1593.8" y2="204" stroke="#808080" stroke-width="1.8"/>
<line x1="1588.8" y1="204" x2="1598.8" y2="204" stroke="#808080" stroke-width="1.8"/>
<line x1="1640.2" y1="227.9" x2="1640.2" y2="176.6" stroke="#808080" stroke-width="1.8"/>
<line x1="1635.2" y1="176.6" x2="1645.2" y2="176.6" stroke="#808080" stroke-width="1.8"/>
<line x1="1686.5" y1="243.3" x2="1686.5" y2="158.7" stroke="#808080" stroke-width="1.8"/>
<line x1="1681.5" y1="158.7" x2="1691.5" y2="158.7" stroke="#808080" stroke-width="1.8"/>
<line x1="1732.8" y1="243.2" x2="1732.8" y2="198.2" stroke="#808080" stroke-width="1.8"/>
<line x1="1727.8" y1="198.2" x2="1737.8" y2="198.2" stroke="#808080" stroke-width="1.8"/>
<line x1="1779.2" y1="215.6" x2="1779.2" y2="177.5" stroke="#808080" stroke-width="1.8"/>
<line x1="1774.2" y1="177.5" x2="1784.2" y2="177.5" stroke="#808080" stroke-width="1.8"/>
<line x1="1825.6" y1="200.5" x2="1825.6" y2="181.6" stroke="#808080" stroke-width="1.8"/>
<line x1="1820.6" y1="181.6" x2="1830.6" y2="181.6" stroke="#808080" stroke-width="1.8"/>
<line x1="1871.9" y1="176.3" x2="1871.9" y2="133.8" stroke="#808080" stroke-width="1.8"/>
<line x1="1866.9" y1="133.8" x2="1876.9" y2="133.8" stroke="#808080" stroke-width="1.8"/>
<polyline points="1223.0,236.4 1269.3,216.6 1315.7,240.9 1362.0,267.9 1408.4,207.6 1454.8,233.7 1501.1,240 1547.5,282.3 1593.8,163.4 1640.2,235.4 1686.5,243.3 1732.8,224.1 1779.2,248.3 1825.6,271.3 1871.9,266" fill="none" stroke="#898484" stroke-width="4.4" stroke-linejoin="round"/>
<rect x="1218.3" y="231.7" width="9.4" height="9.4" fill="#898484"/>
<rect x="1264.6" y="211.9" width="9.4" height="9.4" fill="#898484"/>
<rect x="1311.0" y="236.2" width="9.4" height="9.4" fill="#898484"/>
<rect x="1357.3" y="263.2" width="9.4" height="9.4" fill="#898484"/>
<rect x="1403.7" y="202.9" width="9.4" height="9.4" fill="#898484"/>
<rect x="1450.0" y="229.0" width="9.4" height="9.4" fill="#898484"/>
<rect x="1496.4" y="235.3" width="9.4" height="9.4" fill="#898484"/>
<rect x="1542.8" y="277.6" width="9.4" height="9.4" fill="#898484"/>
<rect x="1589.1" y="158.7" width="9.4" height="9.4" fill="#898484"/>
<rect x="1635.5" y="230.7" width="9.4" height="9.4" fill="#898484"/>
<rect x="1681.8" y="238.6" width="9.4" height="9.4" fill="#898484"/>
<rect x="1728.1" y="219.4" width="9.4" height="9.4" fill="#898484"/>
<rect x="1774.5" y="243.6" width="9.4" height="9.4" fill="#898484"/>
<rect x="1820.9" y="266.6" width="9.4" height="9.4" fill="#898484"/>
<rect x="1867.2" y="261.3" width="9.4" height="9.4" fill="#898484"/>
<polyline points="1223.0,220.2 1269.3,225.6 1315.7,267.4 1362.0,284.7 1408.4,195.9 1454.8,245.4 1501.1,188.2 1547.5,208 1593.8,217.2 1640.2,227.9 1686.5,243.3 1732.8,243.2 1779.2,215.6 1825.6,200.5 1871.9,176.3" fill="none" stroke="#000" stroke-width="4.5" stroke-linejoin="round"/>
<circle cx="1223.0" cy="220.2" r="4.7" fill="#000"/>
<circle cx="1269.3" cy="225.6" r="4.7" fill="#000"/>
<circle cx="1315.7" cy="267.4" r="4.7" fill="#000"/>
<circle cx="1362.0" cy="284.7" r="4.7" fill="#000"/>
<circle cx="1408.4" cy="195.9" r="4.7" fill="#000"/>
<circle cx="1454.8" cy="245.4" r="4.7" fill="#000"/>
<circle cx="1501.1" cy="188.2" r="4.7" fill="#000"/>
<circle cx="1547.5" cy="208" r="4.7" fill="#000"/>
<circle cx="1593.8" cy="217.2" r="4.7" fill="#000"/>
<circle cx="1640.2" cy="227.9" r="4.7" fill="#000"/>
<circle cx="1686.5" cy="243.3" r="4.7" fill="#000"/>
<circle cx="1732.8" cy="243.2" r="4.7" fill="#000"/>
<circle cx="1779.2" cy="215.6" r="4.7" fill="#000"/>
<circle cx="1825.6" cy="200.5" r="4.7" fill="#000"/>
<circle cx="1871.9" cy="176.3" r="4.7" fill="#000"/>
<line x1="1432.4" y1="392.1" x2="1475" y2="392.1" stroke="#898484" stroke-width="4.4"/>
<rect x="1449" y="387.4" width="9.4" height="9.4" fill="#898484"/>
<line x1="1539.5" y1="392.1" x2="1578.5" y2="392.1" stroke="#000" stroke-width="4.5" stroke-linecap="round"/>
<circle cx="1560.3" cy="392.1" r="4.7" fill="#000"/>
<text x="1430.8" y="428.1" font-size="24.3" fill="#000" textLength="43.2" lengthAdjust="spacingAndGlyphs">PKP</text>
<text x="1512" y="426" font-size="24.3" fill="#000" textLength="131" lengthAdjust="spacingAndGlyphs">EMT-RCECs</text>
<text x="1224.9" y="502.8" font-size="32.5" fill="#000" text-anchor="middle" textLength="19.2" lengthAdjust="spacingAndGlyphs">0</text>
<text x="1268.2" y="502.8" font-size="32.5" fill="#000" text-anchor="middle" textLength="19.2" lengthAdjust="spacingAndGlyphs">1</text>
<text x="1311.4" y="502.8" font-size="32.5" fill="#000" text-anchor="middle" textLength="19.2" lengthAdjust="spacingAndGlyphs">2</text>
<text x="1362.3" y="502.8" font-size="32.5" fill="#000" text-anchor="middle" textLength="19.2" lengthAdjust="spacingAndGlyphs">3</text>
<text x="1406" y="502.8" font-size="32.5" fill="#000" text-anchor="middle" textLength="19.2" lengthAdjust="spacingAndGlyphs">6</text>
<text x="1449.2" y="502.8" font-size="32.5" fill="#000" text-anchor="middle" textLength="19.2" lengthAdjust="spacingAndGlyphs">7</text>
<text x="1500.7" y="502.8" font-size="32.5" fill="#000" text-anchor="middle" textLength="19.2" lengthAdjust="spacingAndGlyphs">8</text>
<text x="1552.4" y="502.8" font-size="32.5" fill="#000" text-anchor="middle" textLength="19.2" lengthAdjust="spacingAndGlyphs">9</text>
<text x="1597" y="502.8" font-size="32.5" fill="#000" text-anchor="middle" textLength="38.3" lengthAdjust="spacingAndGlyphs">10</text>
<text x="1641.5" y="502.8" font-size="32.5" fill="#000" text-anchor="middle" textLength="38.3" lengthAdjust="spacingAndGlyphs">13</text>
<text x="1686.8" y="502.8" font-size="32.5" fill="#000" text-anchor="middle" textLength="38.3" lengthAdjust="spacingAndGlyphs">14</text>
<text x="1731.6" y="502.8" font-size="32.5" fill="#000" text-anchor="middle" textLength="38.3" lengthAdjust="spacingAndGlyphs">18</text>
<text x="1776.4" y="502.8" font-size="32.5" fill="#000" text-anchor="middle" textLength="38.3" lengthAdjust="spacingAndGlyphs">23</text>
<text x="1821.9" y="502.8" font-size="32.5" fill="#000" text-anchor="middle" textLength="38.3" lengthAdjust="spacingAndGlyphs">28</text>
<text x="1866.7" y="502.8" font-size="32.5" fill="#000" text-anchor="middle" textLength="38.3" lengthAdjust="spacingAndGlyphs">35</text>
<text x="1455.8" y="544.4" font-size="24" fill="#000" textLength="227.5" lengthAdjust="spacingAndGlyphs">Post operation days</text>
<text x="1394.8" y="31.8" font-size="24.5" fill="#000" textLength="337" lengthAdjust="spacingAndGlyphs">Intra Ocular Pressure(mmHg)</text>
<text x="1111.9" y="66" font-size="32" fill="#000" textLength="20" lengthAdjust="spacingAndGlyphs">C</text>
<text x="1141.2" y="32.4" font-size="24.3" fill="#000" textLength="76" lengthAdjust="spacingAndGlyphs">mmHg</text>
</g>
<text x="4.4" y="605.5" font-size="32" fill="#000" textLength="18.3" lengthAdjust="spacingAndGlyphs">B</text>
<text x="204.70000000000002" y="598.7" font-size="24.4" fill="#000" textLength="53.9" lengthAdjust="spacingAndGlyphs">day7</text>
<text x="403.6" y="598.7" font-size="24.4" fill="#000" textLength="57.3" lengthAdjust="spacingAndGlyphs">day8</text>
<text x="588.3" y="597.6" font-size="24.4" fill="#000" textLength="69.7" lengthAdjust="spacingAndGlyphs">day14</text>
<text x="774.0999999999999" y="598.4" font-size="24.4" fill="#000" textLength="70.8" lengthAdjust="spacingAndGlyphs">day28</text>
<text x="954.8" y="599.7" font-size="24.4" fill="#000" textLength="69.6" lengthAdjust="spacingAndGlyphs">day35</text>
<text x="40.4" y="701.7" font-size="24.5" fill="#000" textLength="61.5" lengthAdjust="spacingAndGlyphs">EMT-</text>
<text x="41.4" y="734.7" font-size="24.5" fill="#000" textLength="69.5" lengthAdjust="spacingAndGlyphs">RCECs</text>
<text x="42" y="912" font-size="30.7" fill="#000" textLength="57.5" lengthAdjust="spacingAndGlyphs">PKP</text>
</svg>
</body></html>
